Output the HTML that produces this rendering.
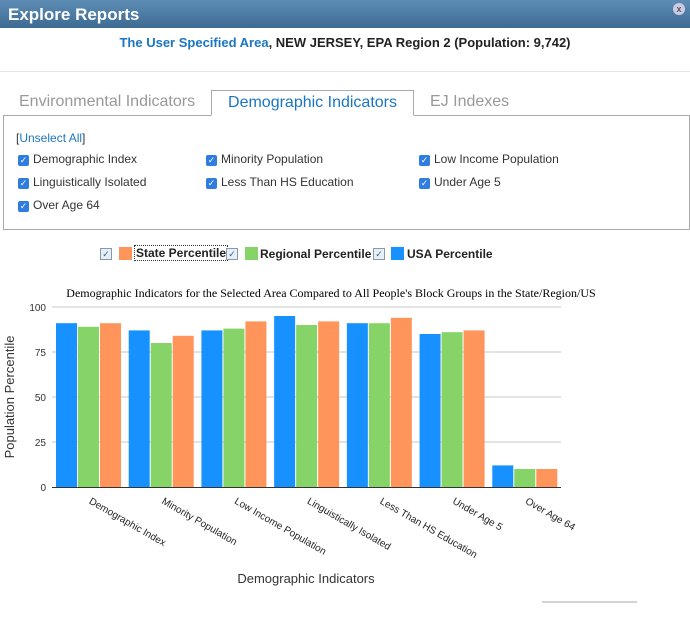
<!DOCTYPE html>
<html><head><meta charset="utf-8"><style>
body{margin:0;width:690px;height:636px;overflow:hidden;background:#fff;font-family:"Liberation Sans",Arial,sans-serif;position:relative}
.hdr{position:absolute;left:0;top:0;width:690px;height:28px;background:linear-gradient(#5d8db5,#3d6a93);color:#fff;font-weight:bold;font-size:17px;line-height:29px;padding-left:8px;box-sizing:border-box}
.close{position:absolute;right:5px;top:3px;width:12px;height:12px;border-radius:6px;background:#ccd;color:#557;font-size:9px;line-height:12px;text-align:center}
.sub{position:absolute;top:35px;width:690px;text-align:center;font-size:13px;font-weight:bold;color:#222}
.sub span{color:#1a76c2}
.hr{position:absolute;top:71px;left:0;width:690px;border-top:1px solid #e5e5e5}
.tab{position:absolute;top:90px;height:26px;font-size:16px;color:#999;line-height:24px}
.tab.act{border:1px solid #aaa;border-bottom:1px solid #fff;color:#1a76c2;background:#fff;z-index:2;box-sizing:border-box;text-align:center}
.box{position:absolute;left:3px;top:115px;width:687px;height:115px;border:1px solid #aaa;box-sizing:border-box}
.cb{position:absolute;font-size:12px;color:#333;line-height:14px}
.cb i{display:inline-block;width:11px;height:11px;background:#2f7de1;border-radius:2px;vertical-align:-1px;margin-right:4px;color:#fff;font-style:normal;font-size:9px;line-height:11px;text-align:center;position:relative;top:-1px}
.lg{position:absolute;top:247px;font-size:12px;font-weight:bold;color:#222}
.sq{position:absolute;top:247px;width:13px;height:13px}
.ck{position:absolute;top:248px;width:12px;height:12px;border:1px solid #89a;background:#e6eef6;box-sizing:border-box;font-size:9px;color:#369;text-align:center;line-height:10px}
</style></head><body>
<div class="hdr">Explore Reports<div class="close">x</div></div>
<div class="sub"><span>The User Specified Area</span>, NEW JERSEY, EPA Region 2 (Population: 9,742)</div>
<div class="hr"></div>
<div class="tab" style="left:19px">Environmental Indicators</div>
<div class="tab act" style="left:211px;width:203px">Demographic Indicators</div>
<div class="tab" style="left:430px">EJ Indexes</div>
<div class="box"></div>
<div class="cb" style="left:16px;top:131px;color:#1a76c2"><span style="color:#333">[</span>Unselect All<span style="color:#333">]</span></div>
<div class="cb" style="left:18px;top:152px"><i>✓</i>Demographic Index</div>
<div class="cb" style="left:206px;top:152px"><i>✓</i>Minority Population</div>
<div class="cb" style="left:419px;top:152px"><i>✓</i>Low Income Population</div>
<div class="cb" style="left:18px;top:175px"><i>✓</i>Linguistically Isolated</div>
<div class="cb" style="left:206px;top:175px"><i>✓</i>Less Than HS Education</div>
<div class="cb" style="left:419px;top:175px"><i>✓</i>Under Age 5</div>
<div class="cb" style="left:18px;top:198px"><i>✓</i>Over Age 64</div>
<div class="ck" style="left:100px">✓</div>
<div class="sq" style="left:119px;background:#ff955a"></div>
<div class="lg" style="left:134px;border:1px dotted #333;padding:0 1px;top:245px">State Percentile</div>
<div class="ck" style="left:226px">✓</div>
<div class="sq" style="left:245px;background:#86d467"></div>
<div class="lg" style="left:260px">Regional Percentile</div>
<div class="ck" style="left:373px">✓</div>
<div class="sq" style="left:391px;background:#1791ff"></div>
<div class="lg" style="left:407px">USA Percentile</div>
<svg id="ch" width="690" height="636" style="position:absolute;left:0;top:0">
<text x="331" y="297" text-anchor="middle" font-family="Liberation Serif,serif" font-size="12">Demographic Indicators for the Selected Area Compared to All People's Block Groups in the State/Region/US</text>
<text transform="translate(14,397) rotate(-90)" text-anchor="middle" font-size="13" fill="#333">Population Percentile</text>
<text x="306" y="583" text-anchor="middle" font-size="13" fill="#333">Demographic Indicators</text>
<line x1="542" y1="602" x2="637" y2="602" stroke="#aaa"/>
</svg>
<script>
const categories=["Demographic Index","Minority Population","Low Income Population","Linguistically Isolated","Less Than HS Education","Under Age 5","Over Age 64"];
const usaValues=[91,87,87,95,91,85,12];
const regionValues=[89,80,88,90,91,86,10];
const stateValues=[91,84,92,92,94,87,10];
const yTicks=[0,25,50,75,100];
const svg=document.getElementById('ch');const NS='http://www.w3.org/2000/svg';
const x0=52,x1=561,y0=487,y100=307;
const band=(x1-x0)/categories.length;
const y=v=>y0-(v/100)*(y0-y100);
function mk(t,a){const e=document.createElementNS(NS,t);for(const k in a)e.setAttribute(k,a[k]);svg.appendChild(e);return e;}
yTicks.forEach(t=>{
  if(t>0){const g=mk('line',{x1:x0,x2:x1,y1:y(t),y2:y(t),stroke:'#e3e3e3','stroke-width':2});
  
  }
  const l=mk('text',{x:46,y:y(t)+4,'text-anchor':'end','font-size':10,fill:'#333'});l.textContent=t;
  
  
});
const series=[[usaValues,'#1791ff','usa'],[regionValues,'#86d467','region'],[stateValues,'#ff955a','state']];
const bw=21,gap=1;
categories.forEach((c,i)=>{
  const gx=x0+i*band+4;
  series.forEach((s,j)=>{
    const r=mk('rect',{x:gx+j*(bw+gap),y:y(s[0][i]),width:bw,height:y0-y(s[0][i]),fill:s[1]});
    
    
  });
  const cx=x0+i*band+band/2;
  const t=mk('text',{transform:`translate(${cx},${y0+16}) rotate(30)`,'font-size':10,fill:'#222'});
  t.textContent=c;
  
  
});
mk('line',{x1:x0,x2:x1,y1:y0+0.5,y2:y0+0.5,stroke:'#333','stroke-width':1});
</script>
</body></html>
